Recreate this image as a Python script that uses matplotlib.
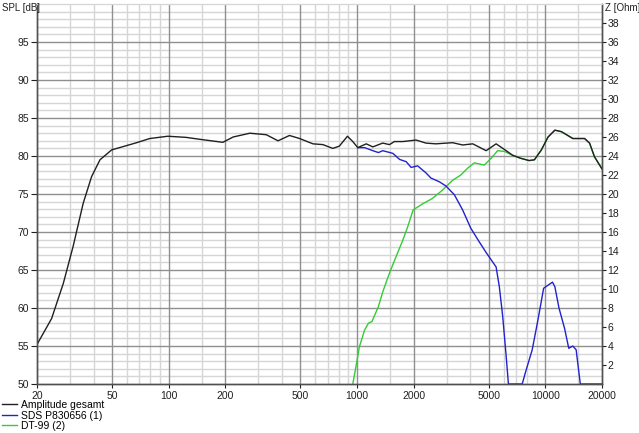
import numpy as np
import matplotlib
matplotlib.use("Agg")
import matplotlib.pyplot as plt

# Amplitude gesamt (total response)
f_total = [20, 23.9, 27.6, 31.1, 35.2, 39, 43.2, 49.8, 67.6, 79.4, 99, 124, 146, 194,
           220, 270, 330, 381, 438, 496, 584, 659, 744, 806, 890, 950, 1010, 1120,
           1214, 1370, 1488, 1580, 1750, 2060, 2320, 2620, 3220, 3640, 4120, 4850,
           5480, 6200, 6700, 7400, 8200, 8750, 9530, 10340, 11240, 12180, 14000,
           16160, 17180, 18240, 20000]
spl_total = [55.2, 58.6, 63.25, 68.1, 73.8, 77.3, 79.5, 80.8, 81.75, 82.3, 82.6, 82.45,
             82.2, 81.8, 82.5, 83.0, 82.8, 82.0, 82.7, 82.3, 81.6, 81.5, 81.0, 81.3,
             82.6, 81.9, 81.1, 81.6, 81.2, 81.7, 81.5, 81.9, 81.9, 82.1, 81.7, 81.6,
             81.75, 81.45, 81.6, 80.7, 81.6, 80.7, 80.1, 79.7, 79.4, 79.5, 80.8, 82.5,
             83.4, 83.2, 82.3, 82.3, 81.7, 79.9, 78.3]

# SDS P830656 (1) - woofer
f_woofer = [1010, 1098, 1214, 1300, 1370, 1550, 1684, 1826, 1938, 2100, 2320, 2470,
            2740, 2970, 3290, 3640, 4020, 4460, 4850, 5480, 5700, 5940, 6200, 6370,
            7540, 7860, 8520, 9070, 9800, 10340, 10920, 11240, 11820, 12660, 13320,
            14000, 14580, 15340, 20000]
spl_woofer = [81.1, 81.1, 80.7, 80.45, 80.7, 80.35, 79.55, 79.25, 78.5, 78.7, 77.8,
              77.1, 76.6, 76.05, 74.9, 72.9, 70.5, 68.7, 67.3, 65.4, 62.8, 58.9, 53.6,
              50, 50, 51.6, 54.5, 58.0, 62.6, 63.0, 63.4, 62.8, 60.0, 57.3, 54.7, 55.0,
              54.5, 50, 50]

# DT-99 (2) - tweeter
f_tweeter = [950, 988, 1030, 1098, 1150, 1200, 1300, 1370, 1488, 1612, 1750, 1860,
             1986, 2230, 2510, 2840, 3220, 3560, 3870, 4200, 4740, 5160, 5580, 6060,
             6700, 7400, 8200, 8750, 9530, 10340, 11240, 12180, 14000, 16160, 17180,
             18240, 20000]
spl_tweeter = [50, 52.3, 54.9, 57.1, 58.0, 58.2, 60.2, 62.1, 64.6, 66.75, 68.9, 70.7,
               72.9, 73.7, 74.4, 75.5, 76.8, 77.5, 78.4, 79.1, 78.8, 79.7, 80.7, 80.6,
               80.1, 79.7, 79.4, 79.5, 80.8, 82.5, 83.4, 83.2, 82.3, 82.3, 81.7, 79.9,
               78.3]

freq_labels = [20, 50, 100, 200, 500, 1000, 2000, 5000, 10000, 20000]
freq_minor = [m * 10 ** k for k in range(1, 5) for m in (1.5, 3, 4, 6, 7, 8, 9)]

plt.rcParams['font.family'] = ['Liberation Sans', 'DejaVu Sans']
plt.rcParams['font.size'] = 7.5

fig = plt.figure(figsize=(6.39, 4.33), dpi=100)
ax = fig.add_axes([37 / 639, 1 - 384 / 433, 565 / 639, 380 / 433])

ax.set_xscale('log')
ax.set_xlim(20, 20000)
ax.set_ylim(50, 100)

major_c = '#8f8f8f'
minor_c = '#d6d6d6'
for y in range(51, 100):
    if y % 5:
        ax.axhline(y, color=minor_c, lw=1, zorder=0)
for y in range(55, 100, 5):
    ax.axhline(y, color=major_c, lw=1, zorder=1)
for f in freq_minor:
    if 20 < f < 20000:
        ax.axvline(f, color=minor_c, lw=1, zorder=0)
for f in freq_labels[1:-1]:
    ax.axvline(f, color=major_c, lw=1, zorder=1)

ax.plot(f_tweeter, spl_tweeter, color='#33cc33', lw=1, zorder=3, label='DT-99 (2)')
ax.plot(f_woofer, spl_woofer, color='#2222cc', lw=1, zorder=4, label='SDS P830656 (1)')
ax.plot(f_total, spl_total, color='#202020', lw=1, zorder=5, label='Amplitude gesamt')

ax.set_xticks(freq_labels)
ax.set_xticklabels([str(f) for f in freq_labels])
ax.xaxis.set_minor_locator(matplotlib.ticker.NullLocator())
ax.set_yticks(list(range(50, 96, 5)))
ax.tick_params(direction='out', length=3, width=0.8, pad=2, colors='#202020')
ax.tick_params(axis='y', which='major', length=4)

ax2 = ax.twinx()
ax2.set_ylim(0, 40)
ax2.set_yticks(list(range(2, 39, 2)))
ax2.tick_params(direction='out', length=3, width=0.8, pad=1, colors='#202020')

# axis unit labels at the top corners
fig.text(2 / 639, 1 - 8 / 433, 'SPL [dB]', ha='left', va='center', fontsize=7, color='#202020')
fig.text(605 / 639, 1 - 8 / 433, 'Z [Ohm]', ha='left', va='center', fontsize=7, color='#202020')

for a in (ax, ax2):
    for s in ('left', 'bottom', 'right'):
        a.spines[s].set_color('#505050')
        a.spines[s].set_linewidth(1)
    a.spines['top'].set_color(minor_c)

handles, labels = ax.get_legend_handles_labels()
ax.legend(handles[::-1], labels[::-1], loc='upper left', bbox_to_anchor=(2 / 639, 1 - 400 / 433),
          bbox_transform=fig.transFigure, frameon=False, handlelength=1.4,
          handletextpad=0.4, labelspacing=0.05, borderpad=0, borderaxespad=0,
          fontsize=7.5)

fig.savefig('out.png', dpi=100)
